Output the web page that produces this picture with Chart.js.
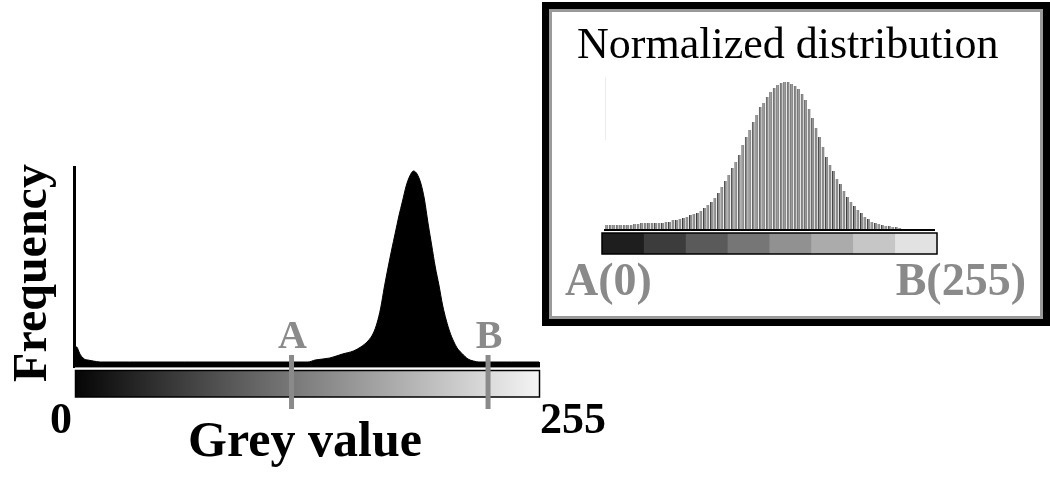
<!DOCTYPE html>
<html>
<head>
<meta charset="utf-8">
<script src="https://cdn.jsdelivr.net/npm/chart.js@4/dist/chart.umd.min.js"></script>
<style>
  html, body { margin: 0; padding: 0; background: #fff; }
  #wrap { position: relative; width: 1050px; height: 484px; overflow: hidden; }
  #wrap canvas { position: absolute; left: 0; top: 0; }
</style>
</head>
<body>
<div id="wrap">
  <canvas id="hist" width="1050" height="484"></canvas>
  <canvas id="inset" width="1050" height="484"></canvas>
</div>
<script>
// left histogram (grey level -> relative count)
const greyLevels = [0, 1, 2, 3, 4, 5, 7, 10, 14, 30, 60, 90, 120, 128, 132, 140, 147, 153, 157, 161,
  164, 166, 168, 170, 172, 174, 176, 178, 180, 182, 184, 186, 188, 190, 192, 194, 196, 198, 200, 202,
  204, 206, 208, 210, 213, 216, 219, 222, 240, 255];
const counts = [18, 18, 14, 10, 8, 6, 5, 4, 3, 3, 3, 3, 3, 3, 5, 7, 11, 14, 18, 24,
  32, 42, 57, 78, 97, 115, 132, 149, 164, 179, 189, 194, 191, 182, 166, 142, 120, 98, 80, 60,
  45, 33, 24, 17, 11, 6, 4, 3, 3, 3];

// window limits A and B on the grey axis
const markerNames = ['A', 'B'];
const markerValues = [119, 227];

// stretched (normalized) histogram in the inset, one value per bar
const normCounts = [4, 4, 4, 4, 4, 4, 4, 4, 5, 5, 6, 6, 6, 6, 6, 6, 6, 7, 7, 9,
  9, 10, 11, 12, 14, 15, 16, 18, 21, 24, 27, 31, 36, 42, 48, 54, 61, 67, 74, 84,
  92, 99, 107, 114, 122, 126, 132, 137, 141, 144, 146, 147, 147, 145, 143, 140, 135, 129, 120, 111,
  101, 92, 82, 72, 64, 58, 50, 45, 38, 32, 27, 23, 19, 16, 12, 10, 7, 6, 5, 4,
  3, 3, 2, 2, 1, 0, 0, 0, 0, 0, 0, 0, 0, 0];
const normLabels = normCounts.map((_, i) => i);

// 8-step grey palette under the inset
const stepColors = ['#1e1e1e', '#3c3c3c', '#5a5a5a', '#767676', '#919191', '#ababab', '#c6c6c6', '#e2e2e2'];

const serif = '"Liberation Serif", "Times New Roman", serif';
const markGrey = '#8a8a8a';

const histDecor = {
  id: 'histDecor',
  afterDatasetsDraw(chart) {
    const { ctx, chartArea: a, scales: { x, y } } = chart;
    const x0 = x.getPixelForValue(0);
    const x1 = x.getPixelForValue(255);
    const base = y.getPixelForValue(0);
    ctx.save();

    // y axis line
    ctx.fillStyle = '#000';
    ctx.fillRect(x0 - 2, a.top + 1, 3, base - a.top + 2);
    // baseline band
    ctx.fillRect(x0, base - 3, x1 - x0 + 1, 5);
    ctx.fillStyle = '#9a9a9a';
    ctx.fillRect(x0, base + 2, x1 - x0 + 1, 1);

    // grey-scale bar
    const g = ctx.createLinearGradient(x0, 0, x1, 0);
    g.addColorStop(0, '#050505');
    g.addColorStop(0.5, '#808080');
    g.addColorStop(1, '#f4f4f4');
    ctx.fillStyle = g;
    ctx.fillRect(x0, base + 5, x1 - x0, 27);
    ctx.strokeStyle = '#000';
    ctx.lineWidth = 1.5;
    ctx.strokeRect(x0 + 0.5, base + 5.5, x1 - x0, 26.5);

    // A / B markers
    ctx.strokeStyle = markGrey;
    ctx.fillStyle = markGrey;
    ctx.lineWidth = 5;
    ctx.font = 'bold 40px ' + serif;
    ctx.textAlign = 'center';
    ctx.textBaseline = 'alphabetic';
    markerValues.forEach((v, i) => {
      const px = x.getPixelForValue(v);
      ctx.beginPath();
      ctx.moveTo(px, base - 10);
      ctx.lineTo(px, base + 44);
      ctx.stroke();
      ctx.fillText(markerNames[i], px + 1, base - 17);
    });

    // axis texts
    ctx.fillStyle = '#000';
    ctx.font = 'bold 44px ' + serif;
    ctx.fillText('0', 61, 433);
    ctx.fillText('255', 573, 433);
    ctx.font = 'bold 50px ' + serif;
    ctx.fillText('Grey value', 305, 456);
    ctx.save();
    ctx.translate(46, 273);
    ctx.rotate(-Math.PI / 2);
    ctx.font = 'bold 48px ' + serif;
    ctx.fillText('Frequency', 0, 0);
    ctx.restore();

    // inset frame and its texts
    ctx.strokeStyle = '#000';
    ctx.lineWidth = 7;
    ctx.strokeRect(545.5, 5.5, 501, 317);
    ctx.strokeStyle = '#9a9a9a';
    ctx.lineWidth = 3;
    ctx.strokeRect(550.5, 10.5, 491, 307);
    ctx.fillStyle = '#000';
    ctx.font = '44px ' + serif;
    ctx.textAlign = 'left';
    ctx.fillText('Normalized distribution', 577, 58);
    ctx.fillStyle = markGrey;
    ctx.font = 'bold 46px ' + serif;
    ctx.fillText('A(0)', 565, 295);
    ctx.textAlign = 'right';
    ctx.fillText('B(255)', 1026, 295);
    ctx.restore();
  }
};

new Chart(document.getElementById('hist'), {
  type: 'line',
  data: {
    datasets: [{
      data: greyLevels.map((g, i) => ({ x: g, y: counts[i] })),
      borderColor: '#000',
      backgroundColor: '#000',
      borderWidth: 1,
      fill: 'origin',
      pointRadius: 0,
      cubicInterpolationMode: 'monotone'
    }]
  },
  options: {
    responsive: false,
    animation: false,
    devicePixelRatio: 1,
    layout: { padding: { left: 75, right: 511, top: 165, bottom: 119 } },
    plugins: { legend: { display: false }, tooltip: { enabled: false } },
    scales: {
      x: { type: 'linear', min: 0, max: 255, display: false },
      y: { min: 0, max: 200, display: false }
    }
  },
  plugins: [histDecor]
});

const insetDecor = {
  id: 'insetDecor',
  afterDatasetsDraw(chart) {
    const { ctx, chartArea: a } = chart;
    ctx.save();
    // faint axis
    ctx.fillStyle = '#ececec';
    ctx.fillRect(a.left, a.top - 2, 1, 63);
    // baseline
    ctx.fillStyle = '#000';
    ctx.fillRect(a.left - 1, a.bottom, a.right - a.left + 3, 2);
    // stepped grey bar
    const left = a.left - 3, right = a.right + 4, top = a.bottom + 4, h = 21;
    const w = (right - left) / stepColors.length;
    stepColors.forEach((c, i) => {
      ctx.fillStyle = c;
      ctx.fillRect(left + i * w, top, w + 0.5, h);
    });
    ctx.strokeStyle = '#000';
    ctx.lineWidth = 1.5;
    ctx.strokeRect(left, top, right - left, h);
    ctx.restore();
  }
};

new Chart(document.getElementById('inset'), {
  type: 'bar',
  data: {
    labels: normLabels,
    datasets: [{
      data: normCounts,
      backgroundColor: '#8c8c8c',
      borderColor: '#3a3a3a',
      borderWidth: { left: 1, right: 0, top: 0, bottom: 0 },
      barPercentage: 0.85,
      categoryPercentage: 1
    }]
  },
  options: {
    responsive: false,
    animation: false,
    devicePixelRatio: 1,
    layout: { padding: { left: 605, right: 117, top: 79, bottom: 255 } },
    plugins: { legend: { display: false }, tooltip: { enabled: false } },
    scales: {
      x: { display: false },
      y: { min: 0, max: 150, display: false }
    }
  },
  plugins: [insetDecor]
});
</script>
</body>
</html>
